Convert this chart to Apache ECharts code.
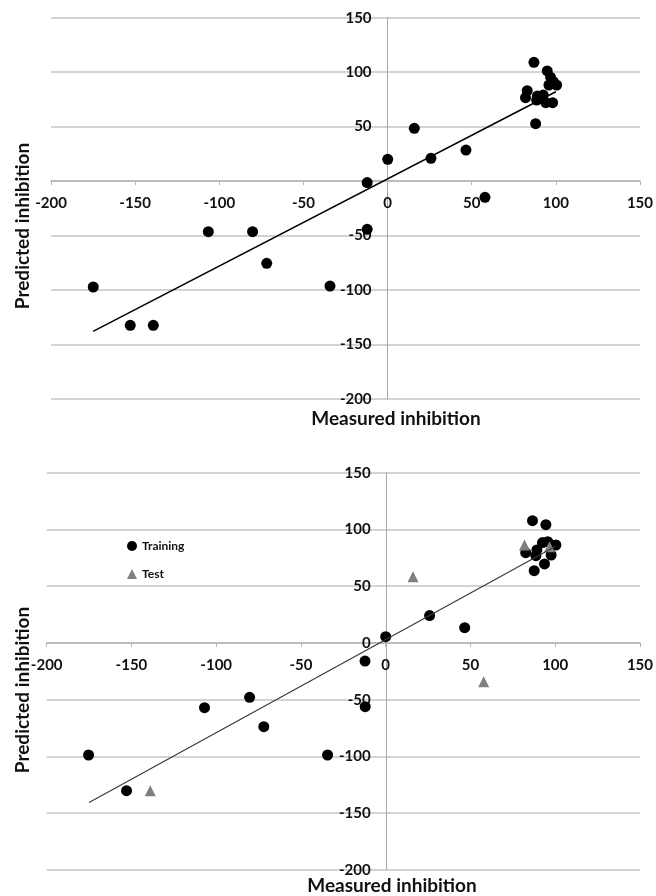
<!DOCTYPE html>
<html>

<head>
<meta charset="utf-8">
<title>ECharts</title>
<script src="https://cdn.jsdelivr.net/npm/echarts@6/dist/echarts.min.js"></script>
<style>
	body { margin: 0; background: #fff; }
</style>
</head>

<body>
	<div id="main" style="width: 656px; height: 896px;"></div>
	<script type="text/javascript">
		// tick values shared by both panels
		var axisTicks = [-200, -150, -100, -50, 0, 50, 100, 150];

		// upper panel: all compounds
		var topMeasured = [87.0, 94.9, 96.9, 98.5, 100.5, 95.9, 83.0, 82.0, 89.0, 92.5, 88.6, 94.1, 98.1, 88.0,
			15.9, 0.1, 25.8, 46.6, -12.1, 57.9, -12.1, -174.9, -152.9, -139.2, -71.8, -34.2, -106.5, -80.2];
		var topPredicted = [109.0, 101.1, 95.3, 91.2, 88.2, 88.2, 83.0, 76.6, 78.1, 79.0, 74.4, 72.0, 72.0, 52.7,
			48.5, 20.0, 20.9, 28.5, -1.3, -14.9, -44.2, -97.2, -132.4, -132.4, -75.5, -96.3, -46.4, -46.4];
		var topFitX = [-175, 100];
		var topFitY = [-138, 82];

		// lower panel: training set
		var trainMeasured = [86.6, 94.5, 82.6, 89.2, 92.5, 95.6, 100.4, 88.6, 97.6, 93.7, 87.6,
			25.9, 46.6, 0, -12.2, -12.1, -106.9, -80.3, -71.9, -175.3, -34.3, -152.9];
		var trainPredicted = [107.7, 104.2, 79.5, 81.9, 88.4, 89.2, 86.3, 76.9, 77.5, 69.6, 63.7,
			24.1, 13.5, 5.5, -15.9, -56.1, -57.0, -47.9, -73.7, -98.7, -98.7, -130.1];
		// lower panel: test set
		var testMeasured = [81.9, 96.6, 16.1, 57.8, -138.9];
		var testPredicted = [86.3, 84.8, 58.4, -34.1, -130.1];
		var bottomFitX = [-175, 100];
		var bottomFitY = [-140.5, 85];

		function pairs(xs, ys) {
			var out = [];
			for (var i = 0; i < xs.length; i++) {
				out.push([xs[i], ys[i]]);
			}
			return out;
		}

		var myChart = echarts.init(document.getElementById('main'));

		var labelFont = 'Lato, "Open Sans", sans-serif';
		var axMin = axisTicks[0];
		var axMax = axisTicks[axisTicks.length - 1];

		// grid boxes (pixels)
		var grids = [
			{ left: 51, right: 16, top: 17.7, width: 589, height: 381.3 },
			{ left: 46.7, right: 14.3, top: 472.7, width: 595, height: 397.3 }
		];

		// where zero sits, measured from the bottom / left edge of the grid
		function zeroFrac() {
			return (0 - axMin) / (axMax - axMin);
		}

		function makeX(gridIndex) {
			return {
				type: 'value',
				gridIndex: gridIndex,
				min: axMin,
				max: axMax,
				interval: 50,
				position: 'bottom',
				offset: -grids[gridIndex].height * zeroFrac(),
				axisLine: { onZero: false, lineStyle: { color: '#b5b5b5', width: 1.5 } },
				axisTick: { show: true, length: 4, lineStyle: { color: '#b5b5b5' } },
				axisLabel: { margin: 15, fontFamily: labelFont, fontWeight: 'bold', fontSize: 15, color: '#111' },
				splitLine: { show: false }
			};
		}

		function makeY(gridIndex, hideZero) {
			return {
				type: 'value',
				gridIndex: gridIndex,
				min: axMin,
				max: axMax,
				interval: 50,
				position: 'left',
				offset: -grids[gridIndex].width * zeroFrac(),
				axisLine: { onZero: false, lineStyle: { color: '#a8a8a8', width: 1 } },
				axisTick: { show: false },
				axisLabel: {
					margin: 16, fontFamily: labelFont, fontWeight: 'bold', fontSize: 15, color: '#111',
					formatter: function (v) { return (hideZero && v === 0) ? '' : String(v); }
				},
				splitLine: { show: true, lineStyle: { color: '#c4c4c4', width: 1.5 } }
			};
		}

		var titleFont = 'bold 19px ' + labelFont;

		var option = {
			animation: false,
			backgroundColor: '#fff',
			grid: [
				{ left: grids[0].left, right: grids[0].right, top: grids[0].top, height: grids[0].height },
				{ left: grids[1].left, right: grids[1].right, top: grids[1].top, height: grids[1].height }
			],
			xAxis: [makeX(0), makeX(1)],
			yAxis: [makeY(0, true), makeY(1, false)],
			legend: {
				data: ['Training', 'Test'],
				orient: 'vertical',
				left: 122,
				top: 535,
				itemWidth: 10,
				itemHeight: 10,
				itemGap: 16,
				textStyle: { fontFamily: labelFont, fontWeight: 'bold', fontSize: 12, color: '#111' }
			},
			graphic: [
				{ type: 'text', x: 23, y: 226, rotation: Math.PI / 2,
					style: { text: 'Predicted inhibition', font: titleFont, fill: '#111', align: 'center', verticalAlign: 'middle' } },
				{ type: 'text', x: 396, y: 419,
					style: { text: 'Measured inhibition', font: titleFont, fill: '#111', align: 'center', verticalAlign: 'middle' } },
				{ type: 'text', x: 23, y: 690, rotation: Math.PI / 2,
					style: { text: 'Predicted inhibition', font: titleFont, fill: '#111', align: 'center', verticalAlign: 'middle' } },
				{ type: 'text', x: 392, y: 886,
					style: { text: 'Measured inhibition', font: titleFont, fill: '#111', align: 'center', verticalAlign: 'middle' } }
			],
			series: [
				{
					name: 'All',
					type: 'scatter',
					xAxisIndex: 0, yAxisIndex: 0,
					symbol: 'circle', symbolSize: 11,
					itemStyle: { color: '#000', opacity: 1 },
					data: pairs(topMeasured, topPredicted)
				},
				{
					name: 'Fit top',
					type: 'line',
					xAxisIndex: 0, yAxisIndex: 0,
					symbol: 'none',
					lineStyle: { color: '#000', width: 1.5 },
					data: pairs(topFitX, topFitY)
				},
				{
					name: 'Fit bottom',
					type: 'line',
					xAxisIndex: 1, yAxisIndex: 1,
					symbol: 'none',
					lineStyle: { color: '#3a3a3a', width: 1.2 },
					data: pairs(bottomFitX, bottomFitY)
				},
				{
					name: 'Training',
					type: 'scatter',
					xAxisIndex: 1, yAxisIndex: 1,
					symbol: 'circle', symbolSize: 11,
					itemStyle: { color: '#000', opacity: 1 },
					data: pairs(trainMeasured, trainPredicted)
				},
				{
					name: 'Test',
					type: 'scatter',
					xAxisIndex: 1, yAxisIndex: 1,
					symbol: 'triangle', symbolSize: 11,
					itemStyle: { color: '#7f7f7f', opacity: 1 },
					data: pairs(testMeasured, testPredicted)
				}
			]
		};

		myChart.setOption(option);
	</script>
</body>

</html>
